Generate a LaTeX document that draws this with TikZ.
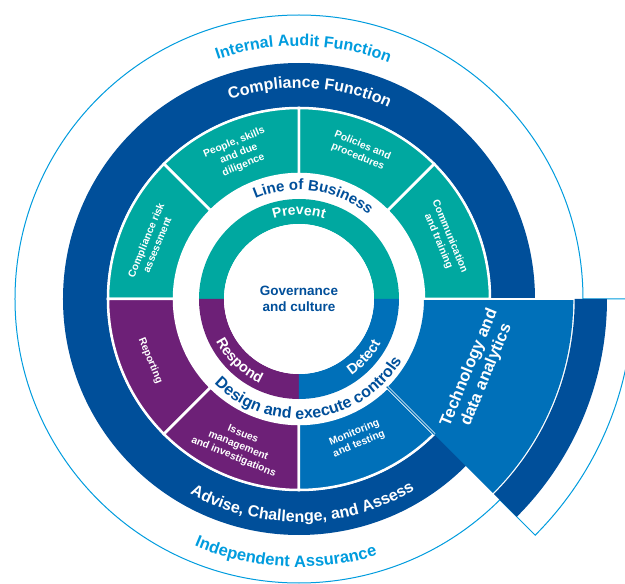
\documentclass[tikz,border=0pt]{standalone}
\usepackage{fontspec}
\setmainfont{Liberation Sans}
\usetikzlibrary{decorations.text}
\definecolor{tealc}{RGB}{0,168,160}
\definecolor{darkb}{RGB}{0,79,154}
\definecolor{medb}{RGB}{0,112,185}
\definecolor{purp}{RGB}{109,32,119}
\definecolor{lightb}{RGB}{0,156,222}
\newcommand\annsec[4]{(#1:#3) -- (#1:#4) arc[start angle=#1, end angle=#2, radius=#4] -- (#2:#3) arc[start angle=#2, end angle=#1, radius=#3] -- cycle}
\tikzset{
  seg/.style={fill=#1, draw=white, line width=2.5pt, line join=miter},
  lbl/.style={text=white, font=\bfseries\fontsize{10.3}{12.2}\selectfont, align=center, inner sep=0pt},
  biglbl/.style={text=white, font=\bfseries\fontsize{16.5}{18.5}\selectfont, align=center, inner sep=0pt},
  govlbl/.style={text=darkb, font=\bfseries\fontsize{13.5}{16}\selectfont, align=center, inner sep=0pt},
}
\begin{document}
\begin{tikzpicture}
\useasboundingbox[fill=white] (-299pt,-285pt) rectangle (326pt,299pt);
% outer thin outline
\draw[lightb, line width=1pt] (0:284pt) arc[start angle=0, end angle=315, radius=284pt] -- (315:334pt) arc[start angle=315, end angle=360, radius=334pt] -- cycle;
% compliance ring
\fill[darkb] (0,0) circle[radius=236pt];
\fill[white] (0,0) circle[radius=192pt];
% outer sectors
\path[seg=tealc] \annsec{0}{45}{125pt}{191pt};
\path[seg=tealc] \annsec{45}{90}{125pt}{191pt};
\path[seg=tealc] \annsec{90}{135}{125pt}{191pt};
\path[seg=tealc] \annsec{135}{180}{125pt}{191pt};
\path[seg=purp] \annsec{180}{225}{125pt}{191pt};
\path[seg=purp] \annsec{225}{270}{125pt}{191pt};
\path[seg=medb] \annsec{270}{315}{125pt}{191pt};
% technology wedge
\fill[medb] \annsec{-45}{0}{125pt}{274.3pt};
\fill[darkb] \annsec{-45}{0}{275.7pt}{308pt};
\draw[white, line width=1.5pt] (0:124pt) -- (0:275pt);
\draw[white, line width=0.7pt, double=medb, double distance=1.4pt] (-45:124pt) -- (-45:191.5pt);
% inner band
\fill[tealc] \annsec{0}{180}{75pt}{100pt};
\fill[purp] \annsec{180}{270}{75pt}{100pt};
\fill[medb] \annsec{270}{360}{75pt}{100pt};
\fill[white] (0,0) circle[radius=75pt];
% curved texts
\path[decorate, decoration={text along path, text align=center,
  text={|\color{lightb}\bfseries\fontsize{16}{18}\selectfont|Internal Audit Function}}]
  (129:253pt) arc[start angle=129, end angle=49, radius=253pt];
\path[decorate, decoration={text along path, text align=center,
  text={|\color{white}\bfseries\fontsize{16}{18}\selectfont|Compliance Function}}]
  (127:211pt) arc[start angle=127, end angle=47, radius=211pt];
\path[decorate, decoration={text along path, text align=center,
  text={|\color{darkb}\bfseries\fontsize{15}{18}\selectfont|Line of Business}}]
  (132:109pt) arc[start angle=132, end angle=32, radius=109pt];
\path[decorate, decoration={text along path, text align=center,
  text={|\color{white}\bfseries\fontsize{14}{17}\selectfont|Prevent}}]
  (140:84pt) arc[start angle=140, end angle=40, radius=84pt];
\path[decorate, decoration={text along path, text align=center,
  text={|\color{white}\bfseries\fontsize{14.5}{17}\selectfont|Respond}}]
  (176:93pt) arc[start angle=176, end angle=276, radius=93pt];
\path[decorate, decoration={text along path, text align=center,
  text={|\color{white}\bfseries\fontsize{14.5}{17}\selectfont|Detect}}]
  (268:93pt) arc[start angle=268, end angle=368, radius=93pt];
\path[decorate, decoration={text along path, text align=center,
  text={|\color{darkb}\bfseries\fontsize{16}{18}\selectfont|Design and execute controls}}]
  (207:120pt) arc[start angle=207, end angle=347, radius=120pt];
\path[decorate, decoration={text along path, text align=center,
  text={|\color{white}\bfseries\fontsize{16}{18}\selectfont|Advise, Challenge, and Assess}}]
  (226:223pt) arc[start angle=226, end angle=316, radius=223pt];
\path[decorate, decoration={text along path, text align=center,
  text={|\color{lightb}\bfseries\fontsize{16.5}{18}\selectfont|Independent Assurance}}]
  (232:268pt) arc[start angle=232, end angle=302, radius=268pt];
% straight labels
\node[govlbl] (gov) at (0,0) {Governance\\and culture};
\node[lbl, rotate=67.5] (crisk) at (159:158pt) {Compliance risk\\assessment};
\node[lbl, rotate=22.5] (people) at (112.5:157pt) {People, skills\\and due\\diligence};
\node[lbl, rotate=-22.5] (policies) at (67.5:160pt) {Policies and\\procedures};
\node[lbl, rotate=-67.5] (comm) at (22.5:157pt) {Communication\\and training};
\node[lbl, rotate=-67.5] (report) at (202.5:161pt) {Reporting};
\node[lbl, rotate=-22.5] (issues) at (247.5:159pt) {Issues\\management\\and investigations};
\node[lbl, rotate=22.5] (monitor) at (292.5:151pt) {Monitoring\\and testing};
\node[biglbl, rotate=67.5] (tech) at (-22:193pt) {Technology and\\data analytics};
\end{tikzpicture}
\end{document}
